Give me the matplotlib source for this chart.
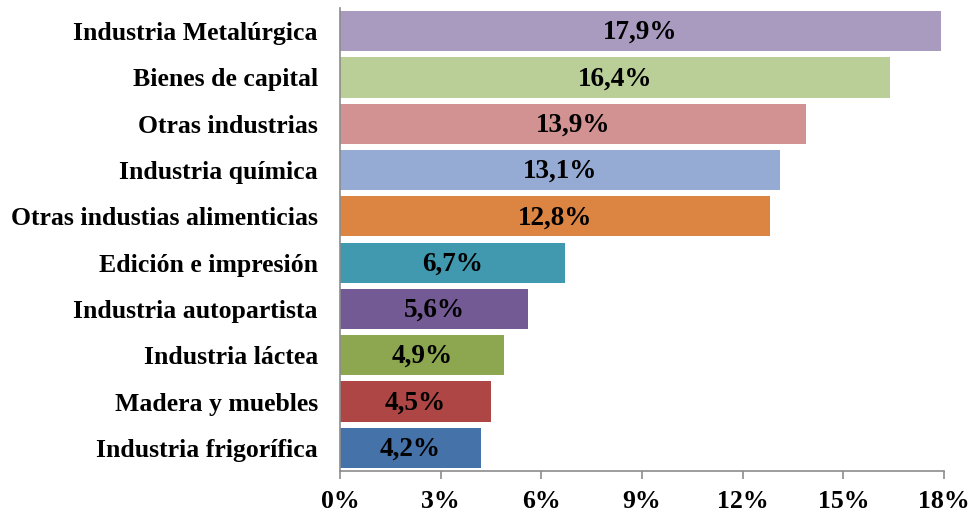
import matplotlib.pyplot as plt
from matplotlib.ticker import FuncFormatter

categories = ["Industria Metalúrgica", "Bienes de capital", "Otras industrias",
              "Industria química", "Otras industias alimenticias", "Edición e impresión",
              "Industria autopartista", "Industria láctea", "Madera y muebles",
              "Industria frigorífica"]
values = [17.9, 16.4, 13.9, 13.1, 12.8, 6.7, 5.6, 4.9, 4.5, 4.2]
colors = ["#A99BBF", "#BACE98", "#D39292", "#95ABD3", "#DC8441",
          "#4199B0", "#735A94", "#8CA74F", "#AD4644", "#4572A8"]
ticks = [0, 3, 6, 9, 12, 15, 18]

plt.rcParams['font.family'] = ['Liberation Serif', 'DejaVu Serif']
plt.rcParams['font.weight'] = 'bold'

fig = plt.figure(figsize=(9.71, 5.12), dpi=100)
ax = fig.add_axes([340 / 971, 1 - 471 / 512, 604 / 971, 463 / 512])

n = len(categories)
ypos = list(range(n - 1, -1, -1))
ax.barh(ypos, values, height=0.87, color=colors)

for y, v in zip(ypos, values):
    ax.text(v / 2, y - 0.03, f"{v:.1f}%".replace(".", ","), ha="center", va="center",
            fontsize=19.5, fontweight="bold", color="black")

ax.set_xlim(0, 18)
ax.set_ylim(-0.5, n - 0.5)
ax.set_xticks(ticks)
ax.xaxis.set_major_formatter(FuncFormatter(lambda x, p: f"{x:.0f}%"))
ax.set_yticks(ypos)
ax.set_yticklabels(categories)

for s in ["top", "right"]:
    ax.spines[s].set_visible(False)
for s in ["left", "bottom"]:
    ax.spines[s].set_color("#8C8C8C")
    ax.spines[s].set_linewidth(1.2)

ax.tick_params(axis="y", length=0, pad=16, labelsize=18.5)
ax.tick_params(axis="x", length=5.5, width=1.2, color="#8C8C8C", direction="out",
               pad=8, labelsize=18.5)
for lab in ax.get_xticklabels() + ax.get_yticklabels():
    lab.set_fontweight("bold")

fig.savefig("out.png", dpi=100)
